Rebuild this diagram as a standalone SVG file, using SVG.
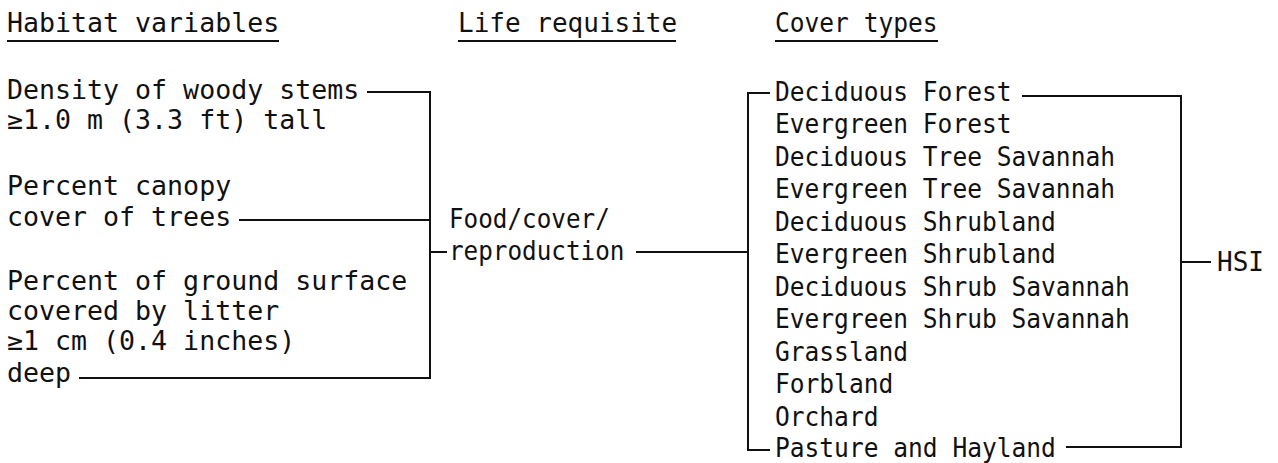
<svg xmlns="http://www.w3.org/2000/svg" width="1278" height="463" viewBox="0 0 1278 463">
<style>
text { font-family: "DejaVu Sans Mono", "Liberation Mono", monospace; font-size: 26.6px; fill: #111; }
.n27 text { font-size: 27px; }
.ln { stroke: #111; stroke-width: 2; fill: none; }
</style>
<rect width="1278" height="463" fill="#fff"/>
<g id="headers">
  <text x="7" y="32">Habitat variables</text>
  <line class="ln" x1="7" y1="41" x2="279" y2="41"/>
  <text x="458" y="32" style="font-size:26px">Life requisite</text>
  <line class="ln" x1="458" y1="41" x2="676" y2="41"/>
  <g class="n27" transform="matrix(0.91 0 0 1 69.75 0)">
    <text x="775" y="32">Cover types</text>
  </g>
  <line class="ln" x1="775" y1="41" x2="938" y2="41"/>
</g>
<g id="var-density">
  <text x="7" y="99">Density of woody stems</text>
  <text x="7" y="129">≥1.0 m (3.3 ft) tall</text>
</g>
<g id="var-canopy">
  <text x="7" y="195">Percent canopy</text>
  <text x="7" y="226">cover of trees</text>
</g>
<g id="var-litter">
  <text x="7" y="290">Percent of ground surface</text>
  <text x="7" y="320">covered by litter</text>
  <text x="7" y="350">≥1 cm (0.4 inches)</text>
  <text x="7" y="382">deep</text>
</g>
<g id="life-requisite" class="n27" transform="matrix(0.9 0 0 1 44.9 0)">
  <text x="449" y="228">Food/cover/</text>
  <text x="449" y="260">reproduction</text>
</g>
<g id="cover-types" class="n27" transform="matrix(0.91 0 0 1 69.75 0)">
  <text x="775" y="101">Deciduous Forest</text>
  <text x="775" y="133.5">Evergreen Forest</text>
  <text x="775" y="166">Deciduous Tree Savannah</text>
  <text x="775" y="198.5">Evergreen Tree Savannah</text>
  <text x="775" y="231">Deciduous Shrubland</text>
  <text x="775" y="263.5">Evergreen Shrubland</text>
  <text x="775" y="296">Deciduous Shrub Savannah</text>
  <text x="775" y="328.5">Evergreen Shrub Savannah</text>
  <text x="775" y="361">Grassland</text>
  <text x="775" y="393.5">Forbland</text>
  <text x="775" y="426">Orchard</text>
  <text x="775" y="457.5">Pasture and Hayland</text>
</g>
<g id="hsi">
  <text x="1217" y="271" style="font-size:26px">HSI</text>
</g>
<g id="connectors">
  <polyline class="ln" points="367,92 430,92 430,378 79,378"/>
  <line class="ln" x1="239" y1="220" x2="430" y2="220"/>
  <line class="ln" x1="430" y1="252" x2="447" y2="252"/>
  <line class="ln" x1="636" y1="252" x2="748" y2="252"/>
  <polyline class="ln" points="770,93 748,93 748,450 770,450"/>
  <polyline class="ln" points="1022,96 1181,96 1181,447 1066,447"/>
  <line class="ln" x1="1181" y1="262" x2="1211" y2="262"/>
</g>
</svg>
